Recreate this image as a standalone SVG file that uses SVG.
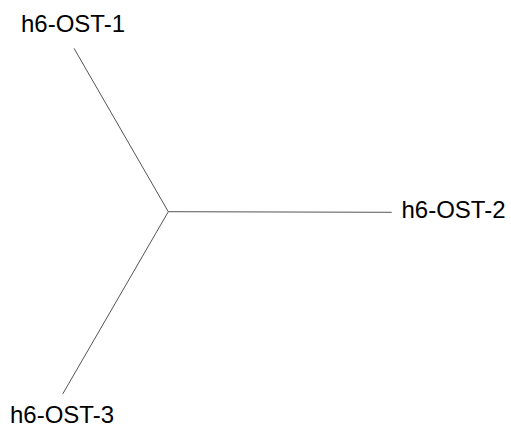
<svg xmlns="http://www.w3.org/2000/svg" width="511" height="430" viewBox="0 0 511 430">
<style>
.edge{stroke:#555;stroke-width:1;fill:none}
.lbl{font-family:"Liberation Sans",Arial,sans-serif;font-size:24px;fill:#000}
</style>
<rect width="511" height="430" fill="#fff"/>
<g id="connectors">
<line class="edge" x1="168.3" y1="211.7" x2="74" y2="48.3"/>
<line class="edge" x1="168.3" y1="211.7" x2="391.7" y2="212.3"/>
<line class="edge" x1="168.3" y1="211.7" x2="62.7" y2="394"/>
</g>
<g id="node-h6-OST-1"><text class="lbl" x="21" y="31.5">h6-OST-1</text></g>
<g id="node-h6-OST-2"><text class="lbl" x="401.5" y="217.5">h6-OST-2</text></g>
<g id="node-h6-OST-3"><text class="lbl" x="10" y="423">h6-OST-3</text></g>
</svg>
